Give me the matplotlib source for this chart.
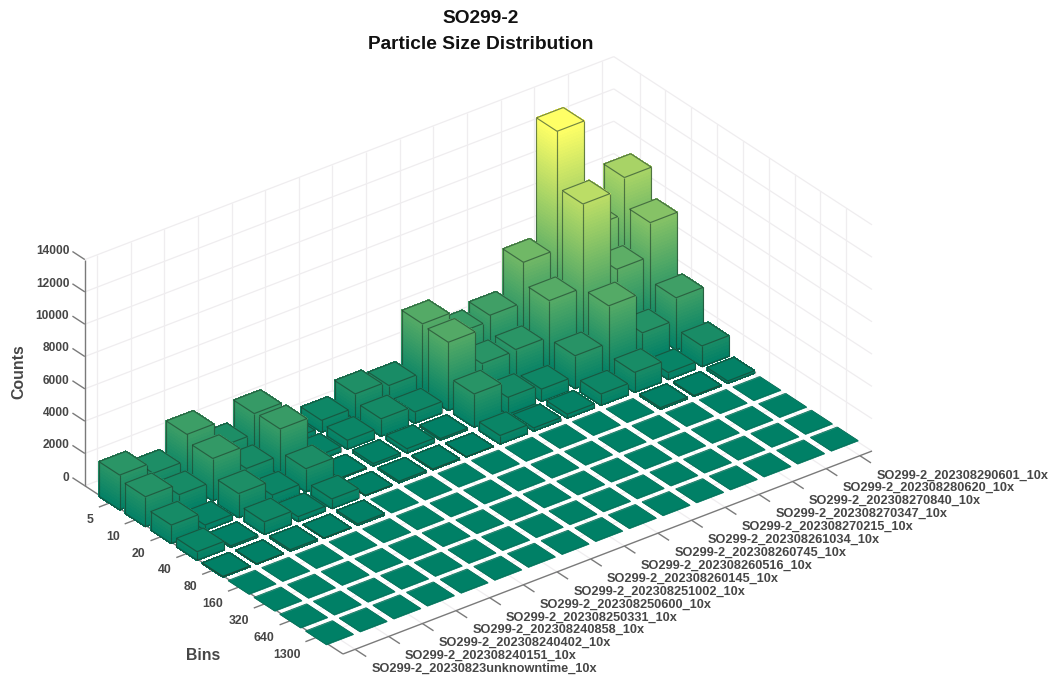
import numpy as np
import matplotlib
matplotlib.use("Agg")
import matplotlib.pyplot as plt
from mpl_toolkits.mplot3d import proj3d
from mpl_toolkits.mplot3d.art3d import Poly3DCollection, Line3DCollection

samples = ["SO299-2_20230823unknowntime_10x", "SO299-2_202308240151_10x", "SO299-2_202308240402_10x",
           "SO299-2_202308240858_10x", "SO299-2_202308250331_10x", "SO299-2_202308250600_10x",
           "SO299-2_202308251002_10x", "SO299-2_202308260145_10x", "SO299-2_202308260516_10x",
           "SO299-2_202308260745_10x", "SO299-2_202308261034_10x", "SO299-2_202308270215_10x",
           "SO299-2_202308270347_10x", "SO299-2_202308270840_10x", "SO299-2_202308280620_10x",
           "SO299-2_202308290601_10x"]
bins = ["5", "10", "20", "40", "80", "160", "320", "640", "1300"]
z_ticks = [0, 2000, 4000, 6000, 8000, 10000, 12000, 14000]

bin_5 = [2150, 1460, 3070, 1500, 2760, 300, 740, 1580, 1300, 4320, 2900, 3250, 5730, 13040, 6320, 8580]
bin_10 = [1850, 1180, 2620, 1200, 2850, 300, 550, 1080, 700, 4220, 2100, 2170, 4400, 9580, 4740, 6830]
bin_20 = [1140, 340, 1490, 600, 1430, 50, 150, 270, 100, 2060, 1050, 760, 2030, 4320, 1850, 3220]
bin_40 = [530, 100, 780, 300, 600, 30, 100, 60, 20, 530, 200, 250, 700, 1240, 430, 1280]
bin_80 = [50, 30, 100, 30, 100, 0, 0, 0, 0, 0, 0, 0, 0, 100, 60, 150]
bin_160 = [0] * 16
bin_320 = [0] * 16
bin_640 = [0] * 16
bin_1300 = [0] * 16
counts = np.array([bin_5, bin_10, bin_20, bin_40, bin_80, bin_160, bin_320, bin_640, bin_1300], float)

plt.rcParams["font.family"] = ["Liberation Sans", "DejaVu Sans"]
TXT = "#464646"
GRID = "#efedef"
AXC = "#7a7a7a"
EDGE = (0.12, 0.24, 0.17, 0.62)
WIDTH = 0.8

XLIM = (0.64, 16.36)
YLIM = (0.0, 10.0)
ZLIM = (0.0, 14000.0)

fig = plt.figure(figsize=(10.5, 6.77), dpi=100)
fig.patch.set_facecolor("white")
ax = fig.add_axes([-0.1, -0.5, 1.2, 2.0], projection="3d", computed_zorder=False)
ax.set_proj_type("ortho")
ax.view_init(elev=30, azim=-127.5)
ax.set_xlim(*XLIM)
ax.set_ylim(YLIM[1], YLIM[0])
ax.set_zlim(*ZLIM)
ax.set_autoscale_on(False)
ax.set_axis_off()
ax.patch.set_alpha(0)
ax.set_box_aspect((666.3, 423.8, 261.0), zoom=1.0)


def summer(z):
    t = np.clip(z / counts.max(), 0, 1)
    return (t, 0.5 + 0.5 * t, 0.4, 1.0)


def seg(p, q):
    return [p, q]


grid = []
for z in z_ticks:
    grid.append(seg((XLIM[0], YLIM[0], z), (XLIM[1], YLIM[0], z)))
    grid.append(seg((XLIM[1], YLIM[0], z), (XLIM[1], YLIM[1], z)))
for i in range(1, len(samples) + 1):
    grid.append(seg((i, YLIM[0], 0), (i, YLIM[0], ZLIM[1])))
    grid.append(seg((i, YLIM[0], 0), (i, YLIM[1], 0)))
for j in range(1, len(bins) + 1):
    grid.append(seg((XLIM[1], j, 0), (XLIM[1], j, ZLIM[1])))
    grid.append(seg((XLIM[0], j, 0), (XLIM[1], j, 0)))
ax.add_collection3d(Line3DCollection(grid, colors=GRID, linewidths=0.9, zorder=1))

rules = [seg((XLIM[0], YLIM[0], 0), (XLIM[0], YLIM[0], ZLIM[1])),
         seg((XLIM[0], YLIM[1], 0), (XLIM[1], YLIM[1], 0)),
         seg((XLIM[0], YLIM[0], 0), (XLIM[0], YLIM[1], 0))]
for z in z_ticks:
    rules.append(seg((XLIM[0], YLIM[0], z), (XLIM[0], YLIM[0] - 0.48, z)))
for i in range(1, len(samples) + 1):
    rules.append(seg((i, YLIM[1], 0), (i, YLIM[1] + 0.43, 0)))
for j in range(1, len(bins) + 1):
    rules.append(seg((XLIM[0], j, 0), (XLIM[0] - 0.35, j, 0)))
ax.add_collection3d(Line3DCollection(rules, colors=AXC, linewidths=1.0, zorder=2))

order = 10
h = WIDTH / 2
STEP = 200.0
for i in range(len(samples), 0, -1):
    for j in range(1, len(bins) + 1):
        v = counts[j - 1, i - 1]
        x0, x1, y0, y1 = i - h, i + h, j - h, j + h
        polys, cols = [], []
        edges = [[(x0, y0, v), (x1, y0, v)], [(x1, y0, v), (x1, y1, v)],
                 [(x1, y1, v), (x0, y1, v)], [(x0, y1, v), (x0, y0, v)]]
        if v > 0:
            levels = list(np.arange(0, v, STEP)) + [v]
            for a, b in zip(levels[:-1], levels[1:]):
                polys.append([(x0, y0, a), (x0, y1, a), (x0, y1, b), (x0, y0, b)])
                cols.append(summer((a + b) / 2))
                polys.append([(x0, y1, a), (x1, y1, a), (x1, y1, b), (x0, y1, b)])
                cols.append(summer((a + b) / 2))
            edges += [[(x0, y0, 0), (x0, y0, v)], [(x0, y1, 0), (x0, y1, v)], [(x1, y1, 0), (x1, y1, v)],
                      [(x0, y0, 0), (x0, y1, 0)], [(x0, y1, 0), (x1, y1, 0)]]
        polys.append([(x0, y0, v), (x1, y0, v), (x1, y1, v), (x0, y1, v)])
        cols.append(summer(v))
        pc = Poly3DCollection(polys, facecolors=cols, edgecolors=cols, linewidths=0.5,
                              antialiaseds=False, shade=False, zorder=order)
        ax.add_collection3d(pc, autolim=False)
        lc = Line3DCollection(edges, colors=[EDGE] if v > 0 else ["#0b7059"],
                              linewidths=0.85 if v > 0 else 0.6, zorder=order + 1)
        ax.add_collection3d(lc, autolim=False)
        order += 2


def corner_px(x, y, z):
    px, py, _ = proj3d.proj_transform(x, y, z, ax.get_proj())
    return ax.transData.transform((px, py))


# fit the projected box onto the reference frame
front = (XLIM[0], YLIM[1], 0)
right = (XLIM[1], YLIM[1], 0)
fig.canvas.draw()
a, b = corner_px(*front), corner_px(*right)
scale = 529.0 / (b[0] - a[0])
ax.set_box_aspect((666.3, 423.8, 261.0), zoom=scale)
fig.canvas.draw()
a = corner_px(*front)
dx = (343.0 - a[0]) / 1050
dy = ((677 - 654.0) - a[1]) / 677
ax.set_position([-0.1 + dx, -0.5 + dy, 1.2, 2.0])
fig.canvas.draw()


def label3d(x, y, z, s, size, ha):
    p = corner_px(x, y, z)
    fig.text(p[0] / 1050, p[1] / 677, s, ha=ha, va="center", fontsize=size,
             fontweight="bold", color=TXT)


for z in z_ticks:
    label3d(XLIM[0], YLIM[0] - 0.6, z - 125, str(z), 8.6, "right")
for i, s in enumerate(samples, start=1):
    label3d(i - 0.26, YLIM[1] + 0.97, 0, s, 9.2, "left")
for j, s in enumerate(bins, start=1):
    label3d(XLIM[0] - 0.81, j + 0.41, 0, s, 8.8, "right")

fig.text(481 / 1050, 1 - 18.5 / 677, "SO299-2", ha="center", va="center", fontsize=13.8,
         fontweight="bold", color="#111111")
fig.text(481 / 1050, 1 - 44.5 / 677, "Particle Size Distribution", ha="center", va="center",
         fontsize=13.8, fontweight="bold", color="#111111")
fig.text(19 / 1050, 1 - 372 / 677, "Counts", rotation=90, ha="center", va="center", fontsize=11.4,
         fontweight="bold", color=TXT)
fig.text(203 / 1050, 1 - 655.5 / 677, "Bins", ha="center", va="center", fontsize=11.4,
         fontweight="bold", color=TXT)

fig.savefig("out.png", dpi=100, facecolor="white")
